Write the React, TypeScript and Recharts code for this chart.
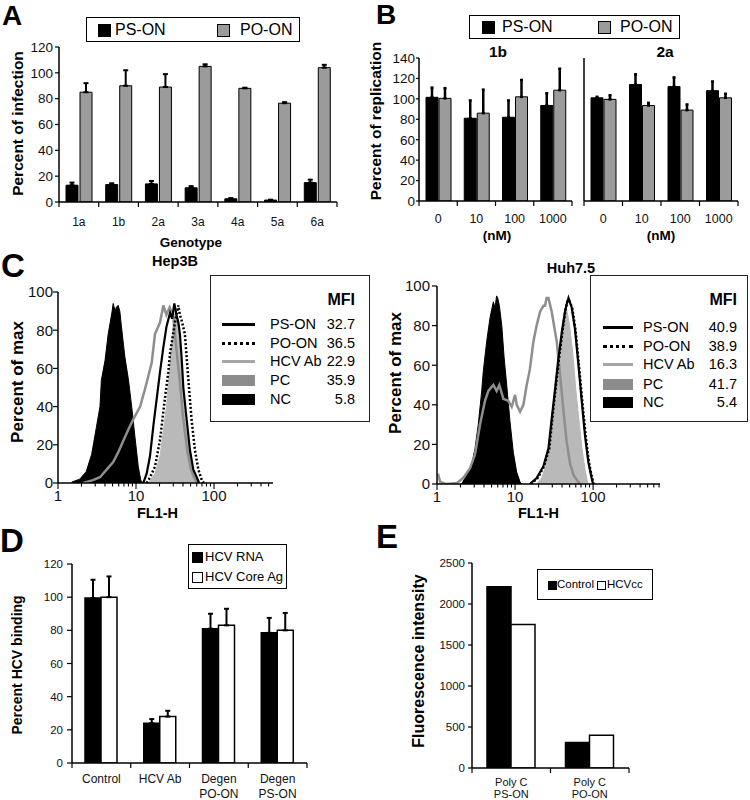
import React from "react";
import {
  BarChart,
  Bar,
  XAxis,
  YAxis,
  ErrorBar,
  Legend,
  ComposedChart,
  Area,
  Line,
} from "recharts";

const FONT = "'Liberation Sans', Arial, Helvetica, sans-serif";
const BAR_GRAY = "#9b9b9b";
const PC_FILL = "#b9b9b9";
const AB_LINE = "#8e8e8e";

// A - infection by genotype
const genotypes = ["1a", "1b", "2a", "3a", "4a", "5a", "6a"];
const infPsOn = [13, 13.5, 14, 11, 2.5, 1.5, 15];
const infPsOnErr = [2, 1, 2.3, 1.3, 0.5, 0.3, 2.3];
const infPoOn = [85, 90, 89, 105, 88, 76.5, 104];
const infPoOnErr = [7, 12, 10, 1.6, 0.5, 0.8, 2.2];

// B - replication (nM)
const doses = ["0", "10", "100", "1000"];
const rep1bPsOn = [101.5, 81, 82, 93.5];
const rep1bPsOnErr = [9.5, 17.5, 16.5, 12];
const rep1bPoOn = [100.5, 86, 102, 108.5];
const rep1bPoOnErr = [10, 23, 16.5, 21];
const rep2aPsOn = [101, 114, 112, 108];
const rep2aPsOnErr = [1, 10, 9, 9];
const rep2aPoOn = [99.5, 93.5, 89, 101];
const rep2aPoOnErr = [4, 2.6, 5.5, 4];

// C - flow histograms, [FL1-H, percent of max]
const flowSeries = ["PS-ON", "PO-ON", "HCV Ab", "PC", "NC"];
const hepMfi = ["32.7", "36.5", "22.9", "35.9", "5.8"];
const huhMfi = ["40.9", "38.9", "16.3", "41.7", "5.4"];

const hepNC = [
  [1.5, 0.5], [1.9, 2], [2.3, 6], [2.7, 15], [3.1, 29], [3.45, 40], [3.6, 54],
  [4.0, 64], [4.4, 78], [4.9, 89], [5.1, 94], [5.4, 90], [5.6, 92], [5.9, 93],
  [6.2, 90], [6.5, 82], [7.2, 66], [8.0, 54], [8.8, 40], [9.7, 24], [10.7, 8.5],
  [11.5, 1.5], [12.2, 0],
];
const hepAb = [
  [2.1, 0], [2.8, 1.5], [3.45, 3], [4.2, 7], [5.1, 11], [5.9, 16], [7.2, 24],
  [8.4, 30], [9.7, 35], [11.3, 40], [13, 49], [14.4, 56], [15.9, 63], [17.5, 78],
  [20.3, 84], [22.4, 93], [24.5, 88], [27, 92], [30, 87], [33, 70], [36, 55],
  [40, 35], [45, 18], [50, 8], [55, 3], [62, 0],
];
const hepPsOn = [
  [12.4, 0], [13.7, 5], [15.1, 14], [16.7, 30], [18.4, 44], [20.3, 58], [22.4, 71],
  [24.6, 82], [27.3, 89], [29, 86], [31, 94], [33, 88], [34.9, 84], [36.5, 78],
  [38.5, 65], [40.4, 50], [44.6, 33], [49.2, 17], [54.3, 7], [60, 3], [64.4, 0],
];
const hepPoOn = [
  [13.7, 0], [15.1, 3], [17.5, 8.5], [20.3, 22.5], [23.6, 45], [25.9, 58], [27.3, 68],
  [31.6, 84], [34.9, 93], [36.5, 88], [38.5, 85], [42.3, 78], [46.9, 54], [51.6, 33],
  [57, 17], [63, 7], [69.5, 1.6], [74, 0],
];
const hepPC = [
  [14.4, 0], [17.5, 5], [20.3, 14], [24.6, 40], [27.3, 63], [30.1, 84], [31.6, 89],
  [33, 86], [34.9, 80], [38.5, 54], [42.3, 33], [46.9, 19], [51.6, 8.5], [57, 2.6],
  [61, 0],
];

const huhNC = [
  [2.07, 0], [2.4, 4.5], [2.78, 9.6], [3.07, 18], [3.38, 30], [3.74, 47], [3.92, 57],
  [4.33, 72], [4.78, 84], [5.27, 92], [5.54, 89], [5.8, 95], [6.0, 94], [6.3, 90],
  [6.76, 80], [7.24, 64], [7.82, 50], [8.62, 31.5], [9.5, 16], [10.5, 6], [11.6, 1],
  [12.2, 0],
];
const huhAb = [
  [1.0, 4], [1.04, 4.5], [1.1, 1], [1.3, 0], [1.8, 0.5], [2.17, 3], [2.65, 8],
  [3.07, 15], [3.56, 30], [4.12, 42], [4.55, 47], [5.27, 50], [5.81, 47], [6.29, 50],
  [7.09, 43], [8.2, 42], [9.06, 39], [10, 45], [10.5, 40], [11.6, 36.5], [12.8, 40],
  [14.1, 50], [15.5, 58], [17.2, 72], [18.9, 80], [20.9, 87], [23.1, 90], [24.2, 90],
  [25.4, 94], [26.8, 94], [29.5, 87], [34.2, 72], [37.8, 55], [41.5, 38], [45.9, 21],
  [50.9, 10], [56.1, 4.5], [62, 2], [68, 0],
];
const huhPsOn = [
  [15.5, 0], [18.9, 3], [23.1, 9], [26.8, 18], [29.5, 33], [32.6, 48], [35.8, 63],
  [39.8, 77], [43.6, 87], [46, 91], [48.4, 94], [53.3, 89], [58.7, 78], [64.6, 61],
  [71.9, 41], [79, 24], [87, 11], [95.8, 3], [100, 0],
];
const huhPoOn = [
  [16, 0], [19.5, 3], [23.5, 9], [27.5, 18], [30, 33], [33, 48], [36.5, 63],
  [40.5, 77], [44, 87], [46.5, 92], [49, 93], [54, 89], [59.5, 78], [65.5, 61],
  [73, 41], [80.5, 24], [88.5, 11], [97, 3], [102, 0],
];
const huhPC = [
  [19, 0], [22, 3], [24.2, 8], [26.8, 17], [29.5, 30], [32.6, 45], [35.8, 60],
  [39.8, 76], [43, 86], [46, 88], [50, 80], [55, 66], [60, 48], [66, 32], [72, 18],
  [79, 7], [86, 0],
];

const logTicksHep = [1, 2, 3, 4, 5, 6, 7, 8, 9, 10, 20, 30, 40, 50, 60, 70, 80, 90, 100, 200, 300, 400, 500];
const logTicksHuh = [...logTicksHep, 600, 700];

// D - HCV binding
const bindGroups = ["Control", "HCV Ab", "Degen\nPO-ON", "Degen\nPS-ON"];
const bindRna = [99.5, 24, 81, 78.5];
const bindRnaErr = [11, 2.5, 9, 9];
const bindCore = [100, 28, 83, 80];
const bindCoreErr = [12.5, 3.5, 10, 10.5];

// E - fluorescence intensity
const polyGroups = ["Poly C\nPS-ON", "Poly C\nPO-ON"];
const fluoControl = [2210, 310];
const fluoHcvcc = [1750, 400];

const infData = genotypes.map((g, i) => ({
  g, ps: infPsOn[i], psErr: infPsOnErr[i], po: infPoOn[i], poErr: infPoOnErr[i],
}));
const rep1bData = doses.map((d, i) => ({
  d, ps: rep1bPsOn[i], psErr: rep1bPsOnErr[i], po: rep1bPoOn[i], poErr: rep1bPoOnErr[i],
}));
const rep2aData = doses.map((d, i) => ({
  d, ps: rep2aPsOn[i], psErr: rep2aPsOnErr[i], po: rep2aPoOn[i], poErr: rep2aPoOnErr[i],
}));
const bindData = bindGroups.map((g, i) => ({
  g, rna: bindRna[i], rnaErr: bindRnaErr[i], core: bindCore[i], coreErr: bindCoreErr[i],
}));
const fluoData = polyGroups.map((g, i) => ({ g, ctrl: fluoControl[i], hcv: fluoHcvcc[i] }));

const toRows = (series: Record<string, number[][]>) => {
  const rows: any[] = [];
  Object.entries(series).forEach(([key, pts]) =>
    pts.forEach(([x, y]) => rows.push({ x, [key]: y }))
  );
  return rows.sort((a, b) => a.x - b.x);
};
const hepRows = toRows({ nc: hepNC, ab: hepAb, ps: hepPsOn, po: hepPoOn, pc: hepPC });
const huhRows = toRows({ nc: huhNC, ab: huhAb, ps: huhPsOn, po: huhPoOn, pc: huhPC });

// only the upper half of each error bar is drawn
const upErr = (key: string) => (d: any) => [0, d[key]];

const axisLine = { stroke: "#000", strokeWidth: 1.5 };
const tickLine = { stroke: "#000", strokeWidth: 1.2 };

const yTitle = (text: string, x: number, dy: number, size: number) => (props: any) => {
  const vb = props.viewBox;
  const cx = vb.x + x;
  const cy = vb.y + vb.height / 2 + dy;
  return (
    <text
      x={cx}
      y={cy}
      transform={`rotate(-90, ${cx}, ${cy})`}
      textAnchor="middle"
      dominantBaseline="central"
      fontFamily={FONT}
      fontSize={size}
      fontWeight="bold"
      fill="#000"
    >
      {text}
    </text>
  );
};

const xTitle = (text: string, dx: number, baseline: number, size: number) => (props: any) => {
  const vb = props.viewBox;
  return (
    <text
      x={vb.x + vb.width / 2 + dx}
      y={vb.y + baseline}
      textAnchor="middle"
      fontFamily={FONT}
      fontSize={size}
      fontWeight="bold"
      fill="#000"
    >
      {text}
    </text>
  );
};

// category tick: tick marks sit on the category boundaries, label in the middle
const catTick =
  (band: number, count: number, fontSize: number, baseline: number, lineGap = 0) =>
  (props: any) => {
    const { x, y, payload, index } = props;
    const lines = String(payload.value).split("\n");
    return (
      <g>
        <line x1={x - band / 2} x2={x - band / 2} y1={y} y2={y + 5} stroke="#000" strokeWidth={1.2} />
        {index === count - 1 && (
          <line x1={x + band / 2} x2={x + band / 2} y1={y} y2={y + 5} stroke="#000" strokeWidth={1.2} />
        )}
        <text x={x} y={y + baseline} textAnchor="middle" fontSize={fontSize} fontFamily={FONT} fill="#111">
          {lines.map((l, i) => (
            <tspan key={i} x={x} dy={i === 0 ? 0 : lineGap}>
              {l}
            </tspan>
          ))}
        </text>
      </g>
    );
  };

const logTick = (props: any) => {
  const { x, y, payload } = props;
  const v = payload.value;
  const major = v === 1 || v === 10 || v === 100;
  return (
    <g>
      <line x1={x} x2={x} y1={y} y2={y + (major ? 6 : 3.5)} stroke="#000" strokeWidth={1.1} />
      {major && (
        <text x={x} y={y + 18} textAnchor="middle" fontSize={15} fontFamily={FONT} fill="#111">
          {v}
        </text>
      )}
    </g>
  );
};

type SwatchItem = {
  label: string;
  fill: string;
  sx: number;
  sy: number;
  size: number;
  tx: number;
  ty: number;
};

const SwatchLegend = ({ w, h, fs, items }: { w: number; h: number; fs: number; items: SwatchItem[] }) => (
  <div
    style={{
      position: "relative",
      width: w,
      height: h,
      border: "1.5px solid #000",
      boxSizing: "border-box",
      background: "#fff",
      fontFamily: FONT,
      color: "#000",
    }}
  >
    {items.map((it) => (
      <React.Fragment key={it.label}>
        <div
          style={{
            position: "absolute",
            left: it.sx,
            top: it.sy,
            width: it.size,
            height: it.size,
            background: it.fill,
            border: "1px solid #000",
            boxSizing: "border-box",
          }}
        />
        <div style={{ position: "absolute", left: it.tx, top: it.ty, fontSize: fs, lineHeight: 1, whiteSpace: "nowrap" }}>
          {it.label}
        </div>
      </React.Fragment>
    ))}
  </div>
);

const symbolStyle = (i: number): React.CSSProperties => {
  if (i === 0) return { height: 0, borderTop: "3px solid #000", marginTop: -1.5 };
  if (i === 1) return { height: 0, borderTop: "3px dotted #000", marginTop: -1.5 };
  if (i === 2) return { height: 0, borderTop: "3px solid #a6a6a6", marginTop: -1.5 };
  if (i === 3) return { height: 11, background: "#8c8c8c", marginTop: -5.5 };
  return { height: 11, background: "#000", marginTop: -5.5 };
};

const MfiLegend = ({
  mfi,
  w,
  symX,
  symW,
  nameX,
  right,
  rowY,
}: {
  mfi: string[];
  w: number;
  symX: number;
  symW: number;
  nameX: number;
  right: number;
  rowY: number[];
}) => (
  <div
    style={{
      position: "relative",
      width: w,
      height: 147,
      border: "1.5px solid #222",
      boxSizing: "border-box",
      background: "#fff",
      fontFamily: FONT,
      color: "#000",
    }}
  >
    <div style={{ position: "absolute", right, top: 16, fontSize: 16, fontWeight: "bold", lineHeight: 1 }}>MFI</div>
    {flowSeries.map((name, i) => (
      <React.Fragment key={name}>
        <div style={{ position: "absolute", left: symX, width: symW, top: rowY[i], ...symbolStyle(i) }} />
        <div style={{ position: "absolute", left: nameX, top: rowY[i] - 7.5, fontSize: 14.5, lineHeight: 1 }}>{name}</div>
        <div style={{ position: "absolute", right, top: rowY[i] - 7.5, fontSize: 14.5, lineHeight: 1 }}>{mfi[i]}</div>
      </React.Fragment>
    ))}
  </div>
);

const tickFont = (size: number) => ({ fill: "#111", fontSize: size, fontFamily: FONT });

const Box = ({ left, top, children }: { left: number; top: number; children: React.ReactNode }) => (
  <div style={{ position: "absolute", left, top }}>{children}</div>
);

export default function App() {
  return (
    <div
      style={{
        position: "absolute",
        left: 0,
        top: 0,
        width: 750,
        height: 800,
        background: "#fff",
        overflow: "hidden",
      }}
    >
      {/* A */}
      <Box left={0} top={0}>
        <BarChart width={345} height={250} data={infData} margin={{ top: 47, right: 8, bottom: 0, left: 0 }} barGap={2}>
          <XAxis
            dataKey="g"
            height={48}
            interval={0}
            tickSize={0}
            tickMargin={0}
            axisLine={axisLine}
            tickLine={false}
            tick={catTick(278 / 7, 7, 12, 24)}
            label={xTitle("Genotype", -7, 45, 13.5)}
          />
          <YAxis
            width={59}
            domain={[0, 120]}
            allowDataOverflow
            ticks={[0, 20, 40, 60, 80, 100, 120]}
            interval={0}
            tickSize={4}
            tickMargin={2}
            axisLine={axisLine}
            tickLine={tickLine}
            tick={tickFont(13.5)}
            label={yTitle("Percent of infection", 17.5, -1, 15.5)}
          />
          <Legend
            layout="horizontal"
            verticalAlign="middle"
            align="center"
            wrapperStyle={{ left: 86, top: 17, width: 214 }}
            content={() => (
              <SwatchLegend
                w={214}
                h={25}
                fs={16}
                items={[
                  { label: "PS-ON", fill: "#000", sx: 11, sy: 5.5, size: 13, tx: 28, ty: 3.5 },
                  { label: "PO-ON", fill: BAR_GRAY, sx: 130, sy: 5.5, size: 13, tx: 153, ty: 3.5 },
                ]}
              />
            )}
          />
          <Bar dataKey="ps" name="PS-ON" barSize={12} fill="#000" stroke="#000" strokeWidth={1} isAnimationActive={false}>
            <ErrorBar dataKey={upErr("psErr")} direction="y" width={2.5} stroke="#000" strokeWidth={2} />
          </Bar>
          <Bar dataKey="po" name="PO-ON" barSize={12} fill={BAR_GRAY} stroke="#000" strokeWidth={1} isAnimationActive={false}>
            <ErrorBar dataKey={upErr("poErr")} direction="y" width={2.5} stroke="#000" strokeWidth={2} />
          </Bar>
        </BarChart>
      </Box>

      {/* B - 1b */}
      <Box left={360} top={0}>
        <BarChart width={220} height={250} data={rep1bData} margin={{ top: 58, right: 8, bottom: 0, left: 0 }} barGap={1}>
          <XAxis
            dataKey="d"
            height={49}
            interval={0}
            tickSize={0}
            tickMargin={0}
            axisLine={axisLine}
            tickLine={false}
            tick={catTick(153 / 4, 4, 12.5, 21.5)}
            label={xTitle("(nM)", 1.5, 39, 13.5)}
          />
          <YAxis
            width={59}
            domain={[0, 140]}
            allowDataOverflow
            ticks={[0, 20, 40, 60, 80, 100, 120, 140]}
            interval={0}
            tickSize={3}
            tickMargin={1}
            axisLine={axisLine}
            tickLine={tickLine}
            tick={tickFont(13.5)}
            label={yTitle("Percent of replication", 15, -8.5, 15.5)}
          />
          <Legend
            layout="horizontal"
            verticalAlign="middle"
            align="center"
            wrapperStyle={{ left: 109, top: 15, width: 211 }}
            content={() => (
              <SwatchLegend
                w={211}
                h={24}
                fs={16}
                items={[
                  { label: "PS-ON", fill: "#000", sx: 12, sy: 5, size: 13, tx: 32, ty: 3 },
                  { label: "PO-ON", fill: BAR_GRAY, sx: 128, sy: 5, size: 13, tx: 150, ty: 3 },
                ]}
              />
            )}
          />
          <Bar dataKey="ps" name="PS-ON" barSize={12} fill="#000" stroke="#000" strokeWidth={1} isAnimationActive={false}>
            <ErrorBar dataKey={upErr("psErr")} direction="y" width={1.5} stroke="#000" strokeWidth={2.5} />
          </Bar>
          <Bar dataKey="po" name="PO-ON" barSize={12} fill={BAR_GRAY} stroke="#000" strokeWidth={1} isAnimationActive={false}>
            <ErrorBar dataKey={upErr("poErr")} direction="y" width={1.5} stroke="#000" strokeWidth={2.5} />
          </Bar>
        </BarChart>
      </Box>

      {/* B - 2a */}
      <Box left={570} top={0}>
        <BarChart width={175} height={250} data={rep2aData} margin={{ top: 58, right: 7, bottom: 0, left: 0 }} barGap={1}>
          <XAxis
            dataKey="d"
            height={49}
            interval={0}
            tickSize={0}
            tickMargin={0}
            axisLine={axisLine}
            tickLine={false}
            tick={catTick(154 / 4, 4, 12.5, 21.5)}
            label={xTitle("(nM)", 0, 39, 13.5)}
          />
          <YAxis
            width={14}
            domain={[0, 140]}
            allowDataOverflow
            ticks={[0, 20, 40, 60, 80, 100, 120, 140]}
            interval={0}
            tickSize={3}
            axisLine={axisLine}
            tickLine={tickLine}
            tick={false}
          />
          <Bar dataKey="ps" name="PS-ON" barSize={12} fill="#000" stroke="#000" strokeWidth={1} isAnimationActive={false}>
            <ErrorBar dataKey={upErr("psErr")} direction="y" width={1.5} stroke="#000" strokeWidth={2.5} />
          </Bar>
          <Bar dataKey="po" name="PO-ON" barSize={12} fill={BAR_GRAY} stroke="#000" strokeWidth={1} isAnimationActive={false}>
            <ErrorBar dataKey={upErr("poErr")} direction="y" width={1.5} stroke="#000" strokeWidth={2.5} />
          </Bar>
        </BarChart>
      </Box>

      {/* C - Hep3B */}
      <Box left={0} top={240}>
        <ComposedChart width={375} height={285} data={hepRows} margin={{ top: 52, right: 102, bottom: 0, left: 0 }}>
          <XAxis
            dataKey="x"
            type="number"
            scale="log"
            domain={[1, 570]}
            allowDataOverflow
            ticks={logTicksHep}
            interval={0}
            height={42}
            tickSize={0}
            tickMargin={0}
            axisLine={axisLine}
            tickLine={false}
            tick={logTick}
            label={xTitle("FL1-H", -8, 35, 14.5)}
          />
          <YAxis
            width={58}
            domain={[0, 100]}
            allowDataOverflow
            ticks={[0, 20, 40, 60, 80, 100]}
            interval={0}
            tickSize={5}
            tickMargin={0}
            axisLine={axisLine}
            tickLine={tickLine}
            tick={tickFont(15)}
            label={yTitle("Percent of max", 17, -5.5, 17)}
          />
          <Legend
            layout="horizontal"
            verticalAlign="middle"
            align="center"
            wrapperStyle={{ left: 210, top: 35, width: 160 }}
            content={() => (
              <MfiLegend mfi={hepMfi} w={160} symX={11} symW={33} nameX={59} right={14} rowY={[48, 67, 85, 104, 123]} />
            )}
          />
          <Area dataKey="nc" name="NC" type="linear" connectNulls fill="#000" fillOpacity={1} stroke="#000" strokeWidth={1} dot={false} activeDot={false} isAnimationActive={false} />
          <Area dataKey="pc" name="PC" type="linear" connectNulls fill={PC_FILL} fillOpacity={1} stroke={PC_FILL} strokeWidth={1} dot={false} activeDot={false} isAnimationActive={false} />
          <Line dataKey="ab" name="HCV Ab" type="linear" connectNulls stroke={AB_LINE} strokeWidth={2.5} dot={false} activeDot={false} isAnimationActive={false} />
          <Line dataKey="ps" name="PS-ON" type="linear" connectNulls stroke="#000" strokeWidth={2.2} dot={false} activeDot={false} isAnimationActive={false} />
          <Line dataKey="po" name="PO-ON" type="linear" connectNulls stroke="#000" strokeWidth={2.5} strokeDasharray="2 2" dot={false} activeDot={false} isAnimationActive={false} />
        </ComposedChart>
      </Box>

      {/* C - Huh7.5 */}
      <Box left={375} top={240}>
        <ComposedChart width={375} height={285} data={huhRows} margin={{ top: 46, right: 90, bottom: 0, left: 0 }}>
          <XAxis
            dataKey="x"
            type="number"
            scale="log"
            domain={[1, 720]}
            allowDataOverflow
            ticks={logTicksHuh}
            interval={0}
            height={41}
            tickSize={0}
            tickMargin={0}
            axisLine={axisLine}
            tickLine={false}
            tick={logTick}
            label={xTitle("FL1-H", -10, 34, 14.5)}
          />
          <YAxis
            width={62}
            domain={[0, 100]}
            allowDataOverflow
            ticks={[0, 20, 40, 60, 80, 100]}
            interval={0}
            tickSize={5}
            tickMargin={2}
            axisLine={axisLine}
            tickLine={tickLine}
            tick={tickFont(15)}
            label={yTitle("Percent of max", 20.5, -12, 17)}
          />
          <Legend
            layout="horizontal"
            verticalAlign="middle"
            align="center"
            wrapperStyle={{ left: 215, top: 35, width: 158 }}
            content={() => (
              <MfiLegend mfi={huhMfi} w={158} symX={12} symW={30} nameX={52} right={10} rowY={[51, 70, 88, 108, 126]} />
            )}
          />
          <Area dataKey="nc" name="NC" type="linear" connectNulls fill="#000" fillOpacity={1} stroke="#000" strokeWidth={1} dot={false} activeDot={false} isAnimationActive={false} />
          <Area dataKey="pc" name="PC" type="linear" connectNulls fill={PC_FILL} fillOpacity={1} stroke={PC_FILL} strokeWidth={1} dot={false} activeDot={false} isAnimationActive={false} />
          <Line dataKey="ab" name="HCV Ab" type="linear" connectNulls stroke={AB_LINE} strokeWidth={2.5} dot={false} activeDot={false} isAnimationActive={false} />
          <Line dataKey="ps" name="PS-ON" type="linear" connectNulls stroke="#000" strokeWidth={2.2} dot={false} activeDot={false} isAnimationActive={false} />
          <Line dataKey="po" name="PO-ON" type="linear" connectNulls stroke="#000" strokeWidth={2.5} strokeDasharray="2 2" dot={false} activeDot={false} isAnimationActive={false} />
        </ComposedChart>
      </Box>

      {/* D */}
      <Box left={0} top={520}>
        <BarChart width={360} height={280} data={bindData} margin={{ top: 44, right: 53, bottom: 0, left: 0 }} barGap={0}>
          <XAxis
            dataKey="g"
            height={37}
            interval={0}
            tickSize={0}
            tickMargin={0}
            axisLine={axisLine}
            tickLine={false}
            tick={catTick(235 / 4, 4, 12, 20, 14.5)}
          />
          <YAxis
            width={72}
            domain={[0, 120]}
            allowDataOverflow
            ticks={[0, 20, 40, 60, 80, 100, 120]}
            interval={0}
            tickSize={5}
            tickMargin={4}
            axisLine={axisLine}
            tickLine={tickLine}
            tick={tickFont(11.5)}
            label={yTitle("Percent HCV binding", 17, 1.5, 14)}
          />
          <Legend
            layout="horizontal"
            verticalAlign="middle"
            align="center"
            wrapperStyle={{ left: 188, top: 24, width: 99 }}
            content={() => (
              <SwatchLegend
                w={99}
                h={45}
                fs={13}
                items={[
                  { label: "HCV RNA", fill: "#000", sx: 3, sy: 6.5, size: 11, tx: 16, ty: 5 },
                  { label: "HCV Core Ag", fill: "#fff", sx: 3, sy: 26.5, size: 11, tx: 16, ty: 25 },
                ]}
              />
            )}
          />
          <Bar dataKey="rna" name="HCV RNA" barSize={16} fill="#000" stroke="#000" strokeWidth={1.5} isAnimationActive={false}>
            <ErrorBar dataKey={upErr("rnaErr")} direction="y" width={2.5} stroke="#000" strokeWidth={2} />
          </Bar>
          <Bar dataKey="core" name="HCV Core Ag" barSize={16} fill="#fff" stroke="#000" strokeWidth={1.5} isAnimationActive={false}>
            <ErrorBar dataKey={upErr("coreErr")} direction="y" width={2.5} stroke="#000" strokeWidth={2} />
          </Bar>
        </BarChart>
      </Box>

      {/* E */}
      <Box left={375} top={520}>
        <BarChart width={375} height={280} data={fluoData} margin={{ top: 43, right: 121, bottom: 0, left: 0 }} barGap={0}>
          <XAxis
            dataKey="g"
            height={32}
            interval={0}
            tickSize={0}
            tickMargin={0}
            axisLine={axisLine}
            tickLine={false}
            tick={catTick(157 / 2, 2, 11, 18, 12)}
          />
          <YAxis
            width={97}
            domain={[0, 2500]}
            allowDataOverflow
            ticks={[0, 500, 1000, 1500, 2000, 2500]}
            interval={0}
            tickSize={4}
            tickMargin={3}
            axisLine={axisLine}
            tickLine={tickLine}
            tick={tickFont(11.5)}
            label={yTitle("Fluorescence intensity", 43, -4.5, 16)}
          />
          <Legend
            layout="horizontal"
            verticalAlign="middle"
            align="center"
            wrapperStyle={{ left: 162, top: 49, width: 116 }}
            content={() => (
              <SwatchLegend
                w={116}
                h={31}
                fs={11.5}
                items={[
                  { label: "Control", fill: "#000", sx: 10, sy: 10.5, size: 9, tx: 19, ty: 9 },
                  { label: "HCVcc", fill: "#fff", sx: 59, sy: 10.5, size: 9, tx: 69, ty: 9 },
                ]}
              />
            )}
          />
          <Bar dataKey="ctrl" name="Control" barSize={24} fill="#000" stroke="#000" strokeWidth={1.5} isAnimationActive={false} />
          <Bar dataKey="hcv" name="HCVcc" barSize={24} fill="#fff" stroke="#000" strokeWidth={1.5} isAnimationActive={false} />
        </BarChart>
      </Box>

      {/* panel letters and titles */}
      <svg
        width={750}
        height={800}
        style={{ position: "absolute", left: 0, top: 0, pointerEvents: "none" }}
        fontFamily={FONT}
        fontWeight="bold"
      >
        <text x={2} y={25} fontSize={28}>A</text>
        <text x={376} y={24} fontSize={28}>B</text>
        <text x={1} y={277} fontSize={33}>C</text>
        <text x={0} y={552} fontSize={33}>D</text>
        <text x={376} y={548} fontSize={33}>E</text>
        <text x={498} y={57} fontSize={15.5} textAnchor="middle">1b</text>
        <text x={665} y={57} fontSize={15.5} textAnchor="middle">2a</text>
        <text x={175} y={266} fontSize={14.5} textAnchor="middle">Hep3B</text>
        <text x={571} y={273} fontSize={14.5} textAnchor="middle">Huh7.5</text>
      </svg>
    </div>
  );
}
